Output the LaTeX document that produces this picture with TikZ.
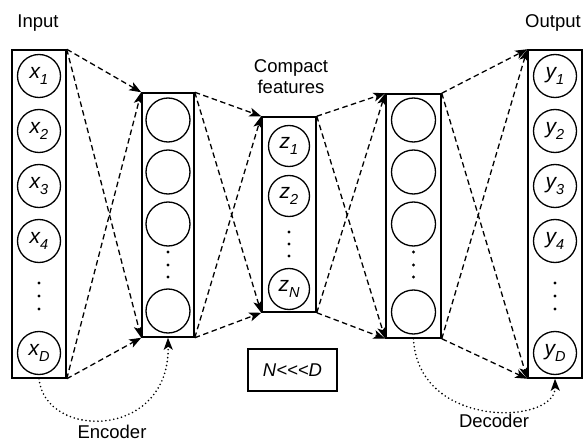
\documentclass[tikz,border=0pt]{standalone}
\usepackage{fontspec}
\setmainfont{Liberation Sans}
\usetikzlibrary{arrows.meta}
\newcommand{\subx}[1]{\raisebox{-0.28em}{\fontsize{14.5}{15}\selectfont #1}}
\begin{document}
\begin{tikzpicture}[x=1pt,y=-1pt,
  layerbox/.style={draw, rectangle, line width=1.5pt, inner sep=0pt, minimum width=#1},
  neuron/.style={draw, circle, line width=1.3pt, minimum size=#1, inner sep=0pt,
    font=\fontsize{21}{22}\selectfont\itshape},
  neuron/.default=43pt,
  lbl/.style={font=\fontsize{18.5}{21}\selectfont, inner sep=0pt, align=center},
  link/.style={line width=1.3pt, dash pattern=on 5.5pt off 3.5pt,
    -{Stealth[length=12pt,width=9pt,inset=3pt]}},
  curv/.style={line width=1.8pt, dash pattern=on 0pt off 4pt, line cap=round,
    -{Stealth[length=12pt,width=9pt,inset=3pt]}},
  dotm/.style={fill=black}
]
\useasboundingbox (0,0) rectangle (584,441);

% layer boxes
\node[layerbox=54pt, minimum height=328pt] (in)  at (39,214) {};
\node[layerbox=52pt, minimum height=244pt] (h1)  at (168,215) {};
\node[layerbox=54pt, minimum height=195pt] (cf)  at (289,214.5) {};
\node[layerbox=55pt, minimum height=244pt] (h2)  at (413.5,216) {};
\node[layerbox=54pt, minimum height=328pt] (out) at (555,214) {};

% input neurons
\node[neuron] (x1) at (39,76)  {x\subx{1}};
\node[neuron] (x2) at (39,131) {x\subx{2}};
\node[neuron] (x3) at (39,186) {x\subx{3}};
\node[neuron] (x4) at (39,241) {x\subx{4}};
\node[neuron] (xD) at (39,353) {x\subx{D}};
\foreach \yy in {283,296,309} \fill[dotm] (39,\yy) circle (1.7);

% hidden 1
\node[neuron=44pt] (a1) at (168,120) {};
\node[neuron=44pt] (a2) at (168,172) {};
\node[neuron=44pt] (a3) at (168,224) {};
\node[neuron=44pt] (a4) at (168,311) {};
\foreach \yy in {252,265,277} \fill[dotm] (168,\yy) circle (1.7);

% compact
\node[neuron=41pt] (z1) at (289,146) {z\subx{1}};
\node[neuron=41pt] (z2) at (289,196) {z\subx{2}};
\node[neuron=41pt] (zN) at (289,289) {z\subx{N}};
\foreach \yy in {232,244,256} \fill[dotm] (289,\yy) circle (1.7);

% hidden 2
\node[neuron=44pt] (b1) at (413.5,120) {};
\node[neuron=44pt] (b2) at (413.5,172) {};
\node[neuron=44pt] (b3) at (413.5,224) {};
\node[neuron=44pt] (b4) at (413.5,312) {};
\foreach \yy in {252,265,277} \fill[dotm] (413.5,\yy) circle (1.7);

% output neurons
\node[neuron] (y1) at (555,76)  {y\subx{1}};
\node[neuron] (y2) at (555,131) {y\subx{2}};
\node[neuron] (y3) at (555,186) {y\subx{3}};
\node[neuron] (y4) at (555,241) {y\subx{4}};
\node[neuron] (yD) at (555,353) {y\subx{D}};
\foreach \yy in {283,296,309} \fill[dotm] (555,\yy) circle (1.7);

% labels
\node[lbl] (tin)  at (38,23)  {Input};
\node[lbl] (tout) at (553,23) {Output};
\node[lbl] (tcf)  at (291,77) {Compact\\features};
\node[lbl] (tenc) at (112,432) {Encoder};
\node[lbl] (tdec) at (494,421) {Decoder};
\node[draw, line width=1.5pt, minimum width=89pt, minimum height=42pt,
      font=\fontsize{18.5}{21}\selectfont\itshape] (ratio) at (292.5,370) {N{<}{<}{<}D};

% dashed connections
\foreach \s/\t in {in/h1, h1/cf, cf/h2, h2/out} {
  \draw[link] (\s.north east) -- (\t.north west);
  \draw[link] (\s.north east) -- (\t.south west);
  \draw[link] (\s.south east) -- (\t.north west);
  \draw[link] (\s.south east) -- (\t.south west);
}

% encoder / decoder curves
\draw[curv] (in.south) .. controls (45,440) and (170,440) .. (h1.south);
\draw[curv] (h2.south) .. controls (418,430) and (556,425) .. (out.south);
\end{tikzpicture}
\end{document}
